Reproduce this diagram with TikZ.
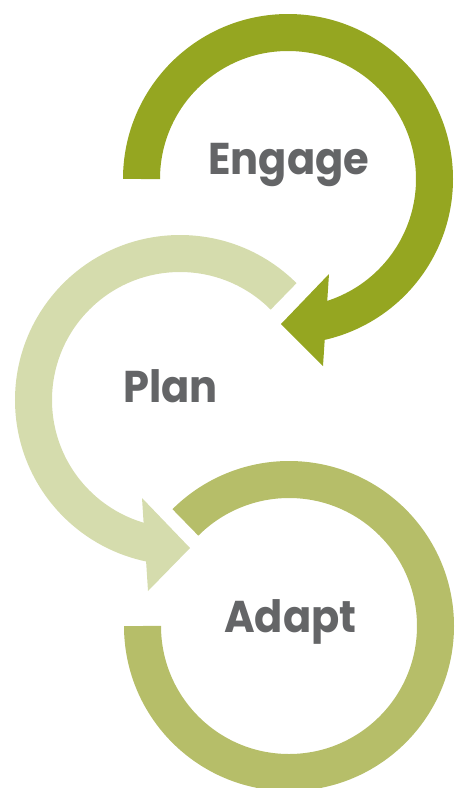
\documentclass[tikz,border=0pt]{standalone}
\usepackage{fontspec}
\setmainfont{Poppins}
\definecolor{engagecol}{HTML}{95A621}
\definecolor{plancol}{HTML}{D5DCAD}
\definecolor{adaptcol}{HTML}{B6BE69}
\definecolor{textcol}{HTML}{646567}
\newcommand{\narrowlbl}[1]{\scalebox{0.935}[1]{#1}}
\begin{document}
\begin{tikzpicture}[x=1pt,y=1pt,
  band/.style={line width=37pt},
  lbl/.style={anchor=base west,inner sep=0pt,text=textcol,font=\fontsize{44.5}{50}\selectfont\bfseries}]
\useasboundingbox (0,0) rectangle (455,-788);
\coordinate (cE) at (288,-179);
\coordinate (cP) at (180,-400);
\coordinate (cA) at (289,-626);
% Engage
\draw[band,engagecol] (cE) ++(180:146.5) arc[start angle=180,end angle=-78,radius=146.5];
\fill[engagecol] (329,-274) -- (281,-324) -- (323,-366) -- cycle;
% Plan
\draw[band,plancol] (cP) ++(45:146.5) arc[start angle=45,end angle=259,radius=146.5];
\fill[plancol] (142,-498) -- (190,-548) -- (148,-591) -- cycle;
% Adapt
\draw[band,adaptcol] (cA) ++(180:146.5) arc[start angle=180,end angle=495,radius=146.5];
% labels
\node[lbl] (tE) at (208,-174) {\narrowlbl{Engage}};
\node[lbl] (tP) at (123,-402) {\narrowlbl{Plan}};
\node[lbl] (tA) at (224,-632) {\narrowlbl{Adapt}};
\end{tikzpicture}
\end{document}
